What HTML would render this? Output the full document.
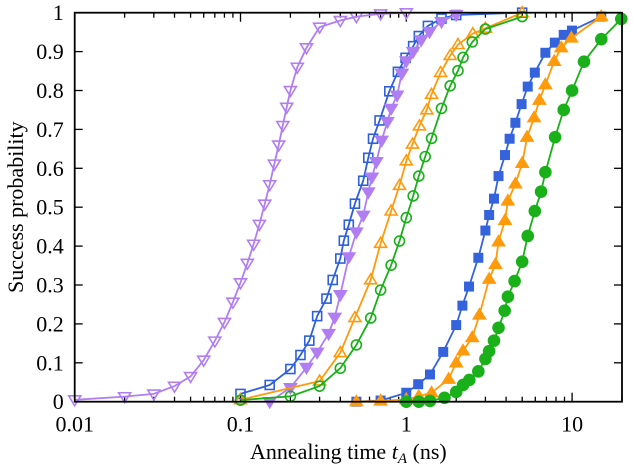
<!DOCTYPE html>
<html><head><meta charset="utf-8"><style>
body{margin:0;background:#fff}
svg{display:block;font-family:"Liberation Serif",serif}
</style></head><body>
<svg id="c" width="633" height="471"></svg>
<script>
const xTicks=[0.01,0.1,1,10];
const xTickLabels=["0.01","0.1","1","10"];
const yTicks=[0,0.1,0.2,0.3,0.4,0.5,0.6,0.7,0.8,0.9,1];
const yTickLabels=["0","0.1","0.2","0.3","0.4","0.5","0.6","0.7","0.8","0.9","1"];

const purpleOpenX=[0.01,0.02,0.03,0.04,0.05,0.06,0.07,0.08,0.09,0.1,0.11,0.12,0.13,0.14,0.15,0.16,0.17,0.18,0.19,0.2,0.22,0.25,0.3,0.4,0.5,0.7,1.0];
const purpleOpenY=[0.005,0.013,0.02,0.04,0.065,0.107,0.156,0.204,0.256,0.306,0.356,0.405,0.456,0.508,0.558,0.611,0.66,0.71,0.757,0.80,0.86,0.91,0.963,0.98,0.99,0.997,1.0];

const blueOpenX=[0.1,0.15,0.2,0.23,0.26,0.29,0.33,0.36,0.40,0.42,0.45,0.49,0.55,0.59,0.63,0.69,0.79,0.89,0.99,1.1,1.19,1.35,1.63,2.0,5.0];
const blueOpenY=[0.02,0.043,0.084,0.12,0.157,0.22,0.265,0.313,0.368,0.414,0.455,0.509,0.568,0.627,0.676,0.723,0.798,0.848,0.884,0.914,0.94,0.966,0.985,0.994,1.0];

const purpleFilledX=[0.15,0.2,0.25,0.29,0.34,0.37,0.40,0.45,0.5,0.55,0.59,0.62,0.66,0.71,0.77,0.81,0.88,0.94,1.0,1.1,1.23,1.38,1.63,2.0];
const purpleFilledY=[0.0,0.036,0.088,0.127,0.175,0.217,0.275,0.372,0.436,0.479,0.539,0.577,0.617,0.672,0.72,0.754,0.788,0.844,0.876,0.90,0.93,0.951,0.977,0.995];

const orangeOpenX=[0.1,0.3,0.4,0.49,0.61,0.70,0.81,0.91,1.0,1.09,1.2,1.33,1.42,1.61,1.84,2.05,2.52,3.0,5.0];
const orangeOpenY=[0.005,0.053,0.126,0.216,0.313,0.407,0.49,0.556,0.619,0.662,0.709,0.75,0.79,0.846,0.89,0.918,0.946,0.96,1.0];

const greenOpenX=[0.1,0.2,0.3,0.4,0.5,0.61,0.7,0.81,0.91,1.0,1.1,1.19,1.3,1.42,1.63,1.84,2.05,2.2,2.5,3.0,5.0];
const greenOpenY=[0.004,0.014,0.04,0.086,0.146,0.215,0.287,0.351,0.413,0.473,0.529,0.58,0.63,0.677,0.754,0.812,0.851,0.885,0.925,0.958,0.99];

const blueFilledX=[0.5,0.7,1.0,1.18,1.39,1.67,2.0,2.18,2.39,2.72,3.0,3.16,3.38,3.6,3.94,4.2,4.55,4.96,5.4,5.96,6.9,7.87,8.9,9.98,15];
const blueFilledY=[0,0.003,0.023,0.045,0.07,0.128,0.197,0.247,0.296,0.37,0.44,0.48,0.522,0.58,0.634,0.676,0.717,0.765,0.81,0.846,0.897,0.923,0.943,0.954,0.99];

const orangeFilledX=[0.5,0.7,1.0,1.19,1.42,1.8,2.0,2.2,2.5,2.76,3.16,3.45,3.6,3.94,4.1,4.55,5.0,5.35,5.9,6.35,6.9,7.8,8.6,9.9,15];
const orangeFilledY=[0,0.002,0.006,0.014,0.023,0.058,0.10,0.131,0.165,0.223,0.315,0.353,0.411,0.466,0.516,0.56,0.613,0.68,0.73,0.775,0.815,0.875,0.91,0.935,0.99];

const greenFilledX=[1.0,1.19,1.39,1.7,2.0,2.2,2.4,2.72,3.0,3.16,3.38,3.6,3.92,4.1,4.5,5.0,5.4,5.96,6.5,6.9,7.9,8.9,10,11.8,15,19.8];
const greenFilledY=[0,0,0.002,0.01,0.025,0.043,0.056,0.078,0.11,0.13,0.157,0.19,0.234,0.27,0.31,0.36,0.426,0.49,0.54,0.59,0.68,0.75,0.80,0.874,0.932,0.984];

const L=74.7,R=622,T=12.7,B=401.7,XMIN=0.01,XMAX=20;
const sx=v=>L+(Math.log10(v)-Math.log10(XMIN))/(Math.log10(XMAX)-Math.log10(XMIN))*(R-L);
const sy=v=>B-v*(B-T);
const NS="http://www.w3.org/2000/svg";
const svg=document.getElementById('c');
function mk(tag,attrs,parent){const e=document.createElementNS(NS,tag);for(const k in attrs)e.setAttribute(k,attrs[k]);(parent||svg).appendChild(e);return e;}

const axes=mk('g',{});


for(let d=-2;d<=1;d++){for(let m=1;m<=9;m++){const v=m*Math.pow(10,d);if(v>XMAX)break;const x=sx(v);const len=m===1?9:5;
mk('line',{x1:x,x2:x,y1:B,y2:B-len,stroke:'#000','stroke-width':1.3},axes);
mk('line',{x1:x,x2:x,y1:T,y2:T+len,stroke:'#000','stroke-width':1.3},axes);}}
yTicks.forEach((v,i)=>{const y=sy(v);
mk('line',{x1:L,x2:L+8,y1:y,y2:y,stroke:'#000','stroke-width':1.3},axes);
mk('line',{x1:R,x2:R-8,y1:y,y2:y,stroke:'#000','stroke-width':1.3},axes);
const t=mk('text',{x:L-11,y:y+7.5,'text-anchor':'end','font-size':22},axes);t.textContent=yTickLabels[i];

});
xTicks.forEach((v,i)=>{const t=mk('text',{x:sx(v),y:B+30,'text-anchor':'middle','font-size':22},axes);t.textContent=xTickLabels[i];

});

const series=[
 ['purple-open-triangles',purpleOpenX,purpleOpenY,'#b07ef2','tridown',false],
 ['blue-open-squares',blueOpenX,blueOpenY,'#2e5fdc','square',false],
 ['purple-filled-triangles',purpleFilledX,purpleFilledY,'#b07ef2','tridown',true],
 ['orange-open-triangles',orangeOpenX,orangeOpenY,'#ff9a0a','triup',false],
 ['green-open-circles',greenOpenX,greenOpenY,'#19b019','circle',false],
 ['blue-filled-squares',blueFilledX,blueFilledY,'#3563dc','square',true],
 ['orange-filled-triangles',orangeFilledX,orangeFilledY,'#ff9a0a','triup',true],
 ['green-filled-circles',greenFilledX,greenFilledY,'#19b019','circle',true]];
series.forEach(([name,xs,ys,col,shape,fill])=>{
 const g=mk('g',{});
 
 
 const pts=xs.map((x,i)=>sx(x).toFixed(1)+','+sy(ys[i]).toFixed(1)).join(' ');
 const pl=mk('polyline',{points:pts,fill:'none',stroke:col,'stroke-width':1.8},g);
 
 
 xs.forEach((x,i)=>{const cx=sx(x),cy=sy(ys[i]);let m;
  const st={fill:fill?col:'none',stroke:col,'stroke-width':1.6};
  if(shape==='square'){const s=fill?4.2:4.5;m=mk('rect',Object.assign({x:cx-s,y:cy-s,width:2*s,height:2*s},st),g);}
  else if(shape==='circle'){m=mk('circle',Object.assign({cx:cx,cy:cy,r:fill?5.5:5},st),g);}
  else if(shape==='triup'){const s=6;m=mk('polygon',Object.assign({points:`${cx},${cy-s} ${cx-s},${cy+s*0.65} ${cx+s},${cy+s*0.65}`},st),g);}
  else {const s=6;m=mk('polygon',Object.assign({points:`${cx},${cy+s} ${cx-s},${cy-s*0.65} ${cx+s},${cy-s*0.65}`},st),g);}
  
  
 });
});
const fr=mk('rect',{x:L,y:T,width:R-L,height:B-T,fill:'none',stroke:'#000','stroke-width':1.8});


const xl=mk('text',{x:(L+R)/2,y:459,'text-anchor':'middle','font-size':22});
xl.innerHTML='Annealing time <tspan font-style="italic">t</tspan><tspan font-style="italic" font-size="15" dy="4">A</tspan><tspan dy="-4"> (ns)</tspan>';


const yl=mk('text',{x:0,y:0,'text-anchor':'middle','font-size':22,transform:`translate(23,${(T+B)/2}) rotate(-90)`});
yl.textContent='Success probability';


</script>
</body></html>
